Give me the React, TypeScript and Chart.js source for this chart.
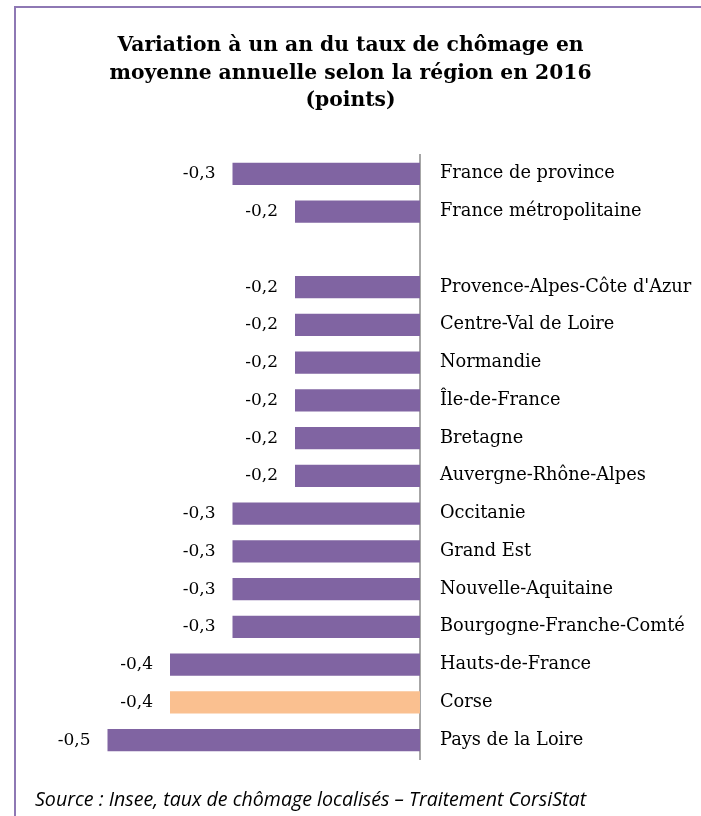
import React, { useEffect, useRef } from "react";
import { Chart, registerables } from "chart.js";

Chart.register(...registerables);

const titleLines = [
  "Variation à un an du taux de chômage en",
  "moyenne annuelle selon la région en 2016",
  "(points)",
];
const sourceText = "Source : Insee, taux de chômage localisés – Traitement CorsiStat";

const categories = [
  "France de province",
  "France métropolitaine",
  "",
  "Provence-Alpes-Côte d'Azur",
  "Centre-Val de Loire",
  "Normandie",
  "Île-de-France",
  "Bretagne",
  "Auvergne-Rhône-Alpes",
  "Occitanie",
  "Grand Est",
  "Nouvelle-Aquitaine",
  "Bourgogne-Franche-Comté",
  "Hauts-de-France",
  "Corse",
  "Pays de la Loire",
];
const values: (number | null)[] = [
  -0.3, -0.2, null, -0.2, -0.2, -0.2, -0.2, -0.2, -0.2, -0.3, -0.3, -0.3, -0.3, -0.4, -0.4, -0.5,
];
const highlighted = ["Corse"];

const PURPLE = "#8064A2";
const ORANGE = "#FAC090";
const SERIF = "'DejaVu Serif', serif";

export default function App() {
  const ref = useRef<HTMLCanvasElement>(null);

  useEffect(() => {
    if (!ref.current) return;

    const decor = {
      id: "decor",
      beforeDraw(chart: any) {
        const ctx = chart.ctx;
        ctx.save();
        ctx.fillStyle = "#fff";
        ctx.fillRect(0, 0, chart.width, chart.height);
        ctx.strokeStyle = "#8E78B4";
        ctx.lineWidth = 2;
        ctx.strokeRect(15, 7, chart.width + 20, chart.height + 20);
        ctx.fillStyle = "#000";
        ctx.textAlign = "center";
        ctx.textBaseline = "alphabetic";
        ctx.font = `bold 20.3px ${SERIF}`;
        titleLines.forEach((t, i) => ctx.fillText(t, chart.width / 2, 51 + i * 27.5));
        ctx.textAlign = "left";
        ctx.font = "italic 19.6px 'Open Sans', sans-serif";
        ctx.fillText(sourceText, 35, 806);
        ctx.restore();
      },
      afterDatasetsDraw(chart: any) {
        const ctx = chart.ctx;
        const meta = chart.getDatasetMeta(0);
        ctx.save();
        ctx.fillStyle = "#000";
        ctx.font = `17px ${SERIF}`;
        ctx.textAlign = "right";
        ctx.textBaseline = "middle";
        meta.data.forEach((el: any, i: number) => {
          const v = values[i];
          if (v == null) return;
          ctx.fillText(v.toFixed(1).replace(".", ","), el.x - 17, el.y);
        });
        ctx.restore();
      },
    };

    const chart = new Chart(ref.current, {
      type: "bar",
      data: {
        labels: categories,
        datasets: [
          {
            data: values,
            backgroundColor: categories.map((c) => (highlighted.includes(c) ? ORANGE : PURPLE)),
            barPercentage: 0.59,
            categoryPercentage: 1,
          },
        ],
      },
      options: {
        indexAxis: "y",
        animation: false,
        responsive: false,
        layout: { padding: { top: 155, bottom: 57, left: 45, right: 0 } },
        plugins: { legend: { display: false }, tooltip: { enabled: false }, title: { display: false } },
        scales: {
          x: { display: false, min: -0.6, max: 0 },
          y: {
            position: "right",
            grid: { display: false, drawTicks: false },
            border: { display: true, color: "#A6A6A6", width: 2 },
            ticks: {
              autoSkip: false,
              padding: 20,
              color: "#000",
              font: { family: SERIF, size: 17.8 },
            },
            afterFit: (axis: any) => {
              axis.width = 281;
            },
          },
        },
      },
      plugins: [decor],
    });
    return () => chart.destroy();
  }, []);

  return (
    <div style={{ position: "absolute", left: 0, top: 0 }}>
      <canvas ref={ref} width={701} height={816} />
    </div>
  );
}
